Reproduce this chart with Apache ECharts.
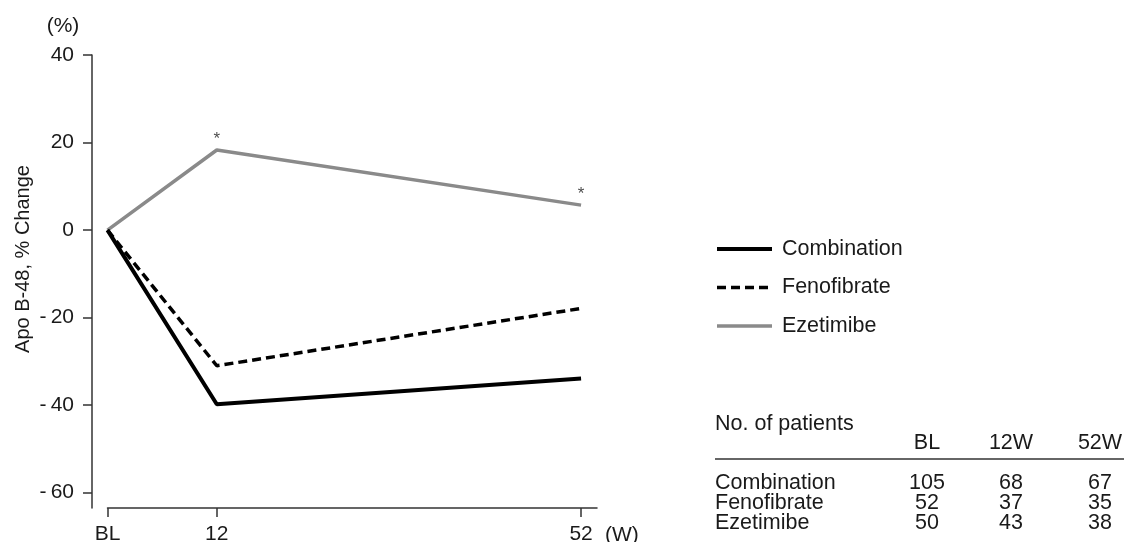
<!DOCTYPE html>
<html>
<head>
<meta charset="utf-8">
<script src="https://cdn.jsdelivr.net/npm/echarts@6/dist/echarts.min.js"></script>
<style>
html,body{margin:0;padding:0;background:#fff;}
#c{width:1124px;height:542px;}
</style>
</head>
<body>
<div id="c"></div>
<script>
// ---- data ----
const weeks = [0, 12, 52];
const xTickLabels = ['BL', '12', '52'];
const yTicks = [-60, -40, -20, 0, 20, 40];
const combination = [0, -39.8, -33.9];
const fenofibrate = [0, -31.0, -17.9];
const ezetimibe = [0, 18.3, 5.7];
const ezetimibeSignificant = [false, true, true];
const tableCols = ['BL', '12W', '52W'];
const tableGroups = ['Combination', 'Fenofibrate', 'Ezetimibe'];
const patientsBL = [105, 52, 50];
const patients12W = [68, 37, 43];
const patients52W = [67, 35, 38];

const FONT = '"Liberation Sans", Arial, Helvetica, sans-serif';
const TXT = '#1a1a1a';
const AX = '#333333';
const FS = 21.5;

const chart = echarts.init(document.getElementById('c'), null, {renderer: 'canvas'});

function pairs(vals) { return weeks.map((w, i) => [w, vals[i]]); }
const starData = weeks.map((w, i) => [w, ezetimibe[i]]).filter((d, i) => ezetimibeSignificant[i]);

// table graphics
const colX = [927, 1011, 1100];
const rowY = [483, 503, 523];
const tableCells = [patientsBL, patients12W, patients52W];
const graphics = [];
graphics.push({type: 'text', x: 63, y: 26, style: {text: '(%)', font: '21px ' + FONT, fill: TXT, textAlign: 'center', textVerticalAlign: 'middle'}});
graphics.push({type: 'text', x: 23, y: 259, rotation: Math.PI / 2,
  style: {text: 'Apo B-48, % Change', font: '20px ' + FONT, fill: TXT, textAlign: 'center', textVerticalAlign: 'middle'}});
graphics.push({type: 'text', x: 605, y: 535, style: {text: '(W)', font: '21px ' + FONT, fill: TXT, textAlign: 'left', textVerticalAlign: 'middle'}});
graphics.push({type: 'text', x: 715, y: 424, style: {text: 'No. of patients', font: FS + 'px ' + FONT, fill: TXT, textAlign: 'left', textVerticalAlign: 'middle'}});
tableCols.forEach((c, j) => {
  graphics.push({type: 'text', x: colX[j], y: 443, style: {text: c, font: FS + 'px ' + FONT, fill: TXT, textAlign: 'center', textVerticalAlign: 'middle'}});
});
graphics.push({type: 'line', shape: {x1: 715, y1: 459, x2: 1124, y2: 459}, style: {stroke: AX, lineWidth: 1.5}});
tableGroups.forEach((g, i) => {
  graphics.push({type: 'text', x: 715, y: rowY[i], style: {text: g, font: FS + 'px ' + FONT, fill: TXT, textAlign: 'left', textVerticalAlign: 'middle'}});
  tableCells.forEach((col, j) => {
    graphics.push({type: 'text', x: colX[j], y: rowY[i], style: {text: String(col[i]), font: FS + 'px ' + FONT, fill: TXT, textAlign: 'center', textVerticalAlign: 'middle'}});
  });
});

const noSym = {color: 'rgba(0,0,0,0)', borderColor: 'rgba(0,0,0,0)', borderWidth: 0, opacity: 0};

const option = {
  animation: false,
  backgroundColor: '#ffffff',
  grid: {left: 107.5, top: 55, right: 1124 - 597, bottom: 542 - 508, containLabel: false, outerBoundsMode: 'none'},
  xAxis: {
    type: 'value', min: 0, max: 53.75,
    axisLine: {show: true, onZero: false, lineStyle: {color: AX, width: 1.5}},
    axisTick: {show: true, length: 9, inside: false, lineStyle: {color: AX, width: 1.5}, customValues: weeks},
    axisLabel: {show: true, margin: 16, color: TXT, fontSize: 21, fontFamily: FONT, customValues: weeks,
      formatter: v => { const i = weeks.indexOf(v); return i >= 0 ? xTickLabels[i] : ''; }},
    splitLine: {show: false}
  },
  yAxis: {
    type: 'value', min: -63.5, max: 40, offset: 15.5,
    axisLine: {show: true, onZero: false, lineStyle: {color: AX, width: 1.5}},
    axisTick: {show: true, length: 9, inside: false, lineStyle: {color: AX, width: 1.5}, customValues: yTicks},
    axisLabel: {show: true, margin: 18, color: TXT, fontSize: 21, fontFamily: FONT, customValues: yTicks,
      formatter: v => v < 0 ? '-\u2009' + Math.abs(v) : String(v)},
    splitLine: {show: false}
  },
  legend: {
    orient: 'vertical', left: 715, top: 238, padding: 0,
    itemWidth: 55, itemHeight: 20, itemGap: 16.5,
    itemStyle: noSym,
    data: [
      {name: 'Combination', itemStyle: noSym, lineStyle: {color: '#000000', width: 4, type: 'solid'}},
      {name: 'Fenofibrate', itemStyle: noSym, lineStyle: {color: '#000000', width: 3.5, type: [9, 5]}},
      {name: 'Ezetimibe', itemStyle: noSym, lineStyle: {color: '#8a8a8a', width: 3.5, type: 'solid'}}
    ],
    textStyle: {color: TXT, fontSize: FS, fontFamily: FONT, padding: [0, 0, 0, 5]},
    selectedMode: false
  },
  series: [
    {name: 'Combination', type: 'line', data: pairs(combination), symbol: 'none',
      lineStyle: {color: '#000000', width: 4}, itemStyle: {color: '#000000'}, z: 3},
    {name: 'Fenofibrate', type: 'line', data: pairs(fenofibrate), symbol: 'none',
      lineStyle: {color: '#000000', width: 3.5, type: [9, 5]}, itemStyle: {color: '#000000'}, z: 3},
    {name: 'Ezetimibe', type: 'line', data: pairs(ezetimibe), symbol: 'none',
      lineStyle: {color: '#8a8a8a', width: 3.5}, itemStyle: {color: '#8a8a8a'}, z: 2},
    {name: 'sig', type: 'scatter', data: starData, symbolSize: 0.1, itemStyle: {color: 'rgba(0,0,0,0)'},
      label: {show: true, position: 'top', distance: 2, formatter: '*', color: TXT, fontSize: 17, fontFamily: FONT}, silent: true}
  ],
  graphic: graphics
};
chart.setOption(option);
</script>
</body>
</html>
